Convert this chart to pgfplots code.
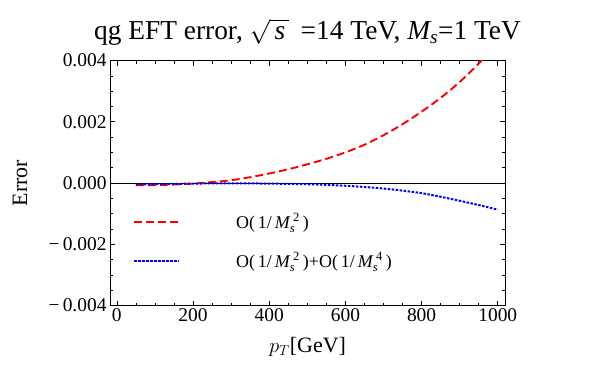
\documentclass[border=0pt]{standalone}
\usepackage{amsmath}
\usepackage{fontspec}
\setmainfont{Liberation Serif}
\usepackage{pgfplots}
\pgfplotsset{compat=1.18}

\begin{document}
\begin{tikzpicture}
\useasboundingbox (-110bp,-68.5bp) rectangle (490bp,305.5bp);
\begin{axis}[
  at={(0,0)}, anchor=south west,
  scale only axis, width=395bp, height=245bp,
  xmin=-18, xmax=1019, ymin=-0.004, ymax=0.004,
  scaled y ticks=false,
  xtick={0,200,400,600,800,1000},
  xticklabels={0,200,400,600,800,1000},
  ytick={-0.004,-0.002,0,0.002,0.004},
  yticklabels={−\,0.004,−\,0.002,0.000,0.002,0.004},
  minor x tick num=3, minor y tick num=3,
  tick align=inside,
  major tick length=5bp, minor tick length=3bp,
  every tick/.style={black, line width=0.6bp},
  axis line style={black, line width=0.8bp},
  tick label style={font=\fontsize{19.5}{21}\selectfont},
  title={qg EFT error, $\sqrt{\,\textit{s}\,}$\, =14 TeV, $\textit{M}_{\textit{s}}$=1 TeV},
  title style={at={(rel axis cs:0.5,1.092)}, anchor=center, font=\fontsize{27.5}{29}\selectfont},
  xlabel={$p_T$[GeV]},
  every axis x label/.style={at={(rel axis cs:0.5,-0.169)}, anchor=center, font=\fontsize{22}{24}\selectfont},
  ylabel={Error},
  every axis y label/.style={at={(rel axis cs:-0.228,0.5)}, anchor=center, rotate=90, font=\fontsize{22}{24}\selectfont},
  legend style={draw=none, fill=none, inner sep=0pt, at={(0.058,0.263)}, anchor=west,
    font=\fontsize{18}{20}\selectfont, row sep=18bp},
  legend cell align=left,
  legend image code/.code={\draw[#1] (0bp,0bp) -- (45bp,0bp); \path[draw=none,fill=none] (0bp,0bp) -- (100bp,0bp);},
]
% zero line
\addplot[black, line width=0.7bp, forget plot] coordinates {(-18,0) (1019,0)};
% O(1/Ms^2)
\addplot[red, line width=1.9bp, dash pattern=on 8bp off 4bp, smooth] coordinates {
  (50,-0.00007) (100,-0.00007) (150,-0.00005) (200,-0.00002) (250,0.00003)
  (300,0.00009) (350,0.00019) (400,0.00031) (450,0.00045) (500,0.00061)
  (550,0.00079) (600,0.00100) (650,0.00125) (700,0.00156) (750,0.00192)
  (800,0.00233) (850,0.00278) (900,0.00330) (950,0.00390) (1000,0.00460)
};
\addlegendentry{O(\,1/\,$\textit{M}_{\textit{s}}^{\;\textrm{2}}$\,)}
% O(1/Ms^2)+O(1/Ms^4)
\addplot[blue, line width=2bp, dash pattern=on 2.5bp off 1.5bp, smooth] coordinates {
  (50,-0.00005) (100,-0.00004) (200,-0.00002) (300,-0.00001) (400,-0.00002)
  (500,-0.00004) (550,-0.00006) (600,-0.00009) (650,-0.00013) (700,-0.00018)
  (750,-0.00025) (800,-0.00033) (850,-0.00045) (900,-0.00058) (950,-0.00072)
  (1000,-0.00087)
};
\addlegendentry{O(\,1/\,$\textit{M}_{\textit{s}}^{\;\textrm{2}}$\,)+O(\,1/\,$\textit{M}_{\textit{s}}^{\;\textrm{4}}$\,)}
\end{axis}
\end{tikzpicture}
\end{document}
